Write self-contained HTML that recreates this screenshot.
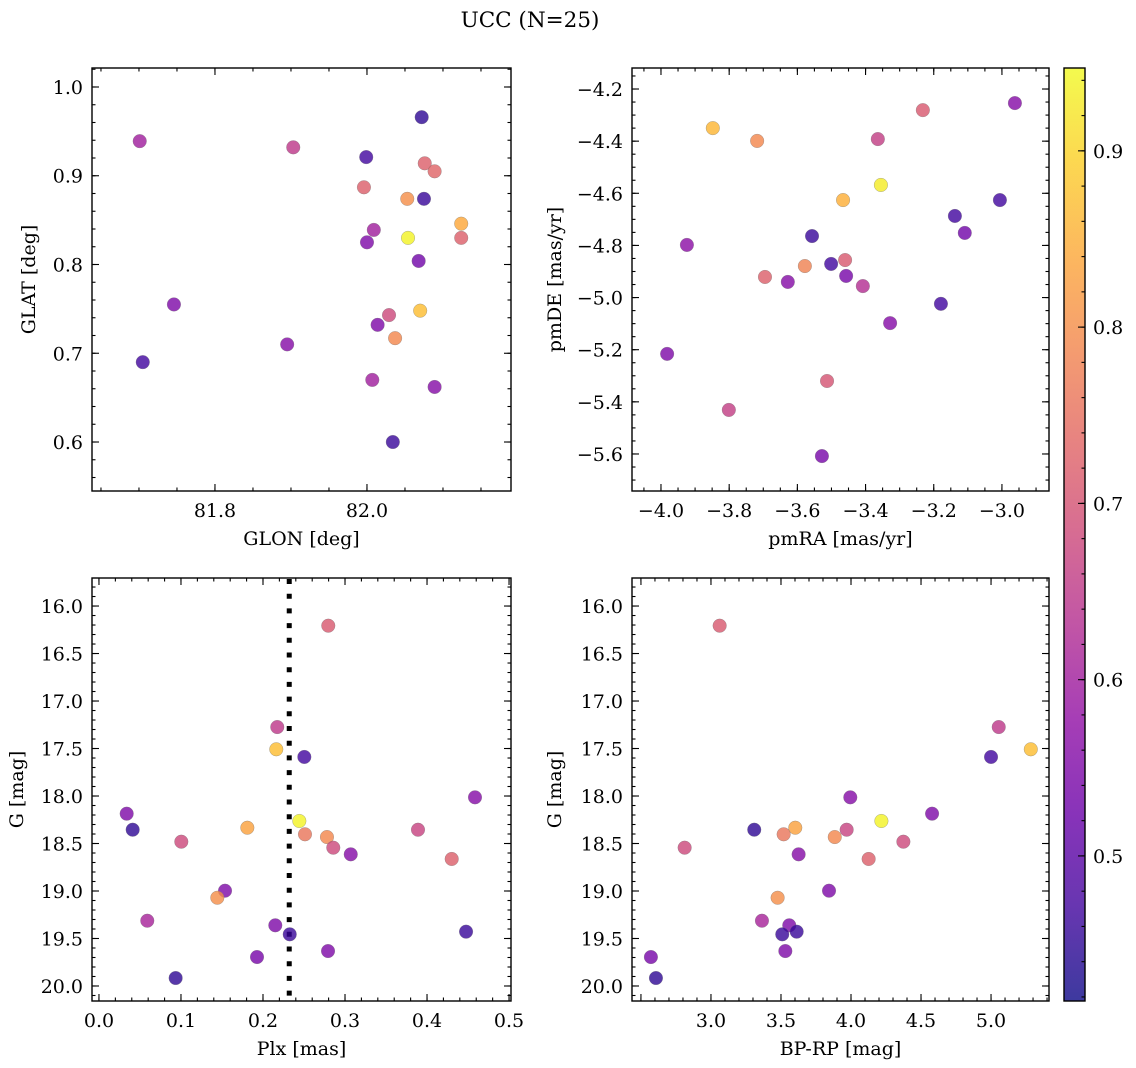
<!DOCTYPE html>
<html><head><meta charset="utf-8">
<style>
html,body{margin:0;padding:0;background:#fff;}
svg{display:block;font-family:"DejaVu Serif","Liberation Serif",serif;}
</style></head>
<body>
<svg id="fig" width="1136" height="1068" viewBox="0 0 1136 1068" xmlns="http://www.w3.org/2000/svg">
<rect width="1136" height="1068" fill="#fff"/>
<text x="530" y="27" font-size="21.5" text-anchor="middle">UCC (N=25)</text>
<defs>
<linearGradient id="plasma" x1="0" y1="1" x2="0" y2="0">
<stop offset="0" stop-color="#0d0887"/><stop offset="0.1" stop-color="#41049d"/>
<stop offset="0.2" stop-color="#6a00a8"/><stop offset="0.3" stop-color="#8f0da4"/>
<stop offset="0.4" stop-color="#b12a90"/><stop offset="0.5" stop-color="#cc4778"/>
<stop offset="0.6" stop-color="#e16462"/><stop offset="0.7" stop-color="#f2844b"/>
<stop offset="0.8" stop-color="#fca636"/><stop offset="0.9" stop-color="#fcce25"/>
<stop offset="1" stop-color="#f0f921"/>
</linearGradient>
</defs>
</svg>
<script>
// ---- data ----
const glon = [81.701,81.903,82.072,81.999,82.076,82.089,81.996,82.053,82.075,82.124,82.054,82.009,82.000,82.124,82.068,81.746,81.705,82.070,82.029,82.014,82.037,81.895,82.007,82.089,82.034];
const glat = [0.939,0.932,0.966,0.921,0.914,0.905,0.887,0.874,0.874,0.846,0.830,0.839,0.825,0.830,0.804,0.755,0.690,0.748,0.743,0.732,0.717,0.710,0.670,0.662,0.600];
const cGal = [0.60,0.65,0.45,0.47,0.72,0.73,0.72,0.80,0.46,0.84,0.94,0.60,0.55,0.72,0.53,0.55,0.47,0.87,0.68,0.55,0.79,0.56,0.60,0.56,0.46];
const pmra = [-3.848,-3.718,-3.232,-3.364,-2.962,-3.355,-3.466,-3.006,-3.138,-3.109,-3.557,-3.924,-3.578,-3.501,-3.460,-3.695,-3.628,-3.457,-3.408,-3.179,-3.328,-3.982,-3.513,-3.801,-3.528];
const pmde = [-4.350,-4.399,-4.281,-4.392,-4.254,-4.568,-4.626,-4.626,-4.687,-4.752,-4.764,-4.798,-4.879,-4.871,-4.856,-4.921,-4.940,-4.917,-4.956,-5.024,-5.098,-5.216,-5.320,-5.431,-5.608];
const cPm = [0.86,0.79,0.71,0.66,0.56,0.93,0.85,0.47,0.47,0.53,0.46,0.57,0.78,0.47,0.71,0.72,0.56,0.54,0.63,0.47,0.56,0.55,0.70,0.66,0.54];
const plx = [0.2796,0.2174,0.2162,0.2504,0.4585,0.0338,0.0411,0.1809,0.2443,0.2512,0.2780,0.3890,0.1004,0.2857,0.3070,0.4301,0.1537,0.1443,0.0589,0.2150,0.2326,0.4476,0.1927,0.2793,0.0935];
const gmag = [16.207,17.274,17.508,17.589,18.014,18.186,18.355,18.334,18.263,18.403,18.432,18.355,18.481,18.544,18.614,18.663,18.997,19.071,19.313,19.361,19.456,19.428,19.695,19.632,19.916];
const bprp = [3.062,5.055,5.284,5.000,3.995,4.579,3.309,3.602,4.217,3.519,3.884,3.969,4.374,2.812,3.626,4.126,3.843,3.476,3.364,3.559,3.509,3.612,2.571,3.531,2.607];
const cPhot = [0.71,0.65,0.87,0.47,0.56,0.55,0.45,0.83,0.94,0.76,0.79,0.67,0.68,0.68,0.56,0.72,0.55,0.80,0.61,0.55,0.46,0.46,0.54,0.55,0.45];
const plxLine = 0.232;
const cbTicks = [0.5,0.6,0.7,0.8,0.9];
const gTicks = [16.0,16.5,17.0,17.5,18.0,18.5,19.0,19.5,20.0];

const NS = "http://www.w3.org/2000/svg";
const svg = document.getElementById('fig');
const CMIN = 0.4177, CMAX = 0.947;
const FS = 19;
const stops = [[13,8,135],[65,4,157],[106,0,168],[143,13,164],[177,42,144],[204,71,120],[225,100,98],[242,132,75],[252,166,54],[252,206,37],[240,249,33]];
function plasma(v){
  let t=(v-CMIN)/(CMAX-CMIN); t=Math.max(0,Math.min(1,t));
  const f=t*10, i=Math.min(9,Math.floor(f)), u=f-i;
  const a=stops[i], b=stops[i+1];
  return 'rgb('+a.map((x,k)=>Math.round(x+(b[k]-x)*u)).join(',')+')';
}
function el(tag, attrs, parent){
  const e=document.createElementNS(NS,tag);
  for(const k in attrs) e.setAttribute(k,attrs[k]);
  (parent||svg).appendChild(e); return e;
}
function fmt(v,d){ const s=Math.abs(v).toFixed(d); return (v<0?'\u2212':'')+s; }

function panel(o){
  const g=el('g',{});
  
  
  const X=v=>o.x0+(v-o.xmin)/(o.xmax-o.xmin)*(o.x1-o.x0);
  const Y=v=>o.y1-(v-o.ymin)/(o.ymax-o.ymin)*(o.y1-o.y0);
  const tg=el('g',{stroke:'#000','stroke-width':1.1},g);
  function ticksX(step,len){
    const s=Math.ceil(o.xmin/step-1e-9);
    for(let k=s;k*step<=o.xmax+1e-9;k++){const px=X(k*step);
      el('line',{x1:px,x2:px,y1:o.y1,y2:o.y1-len},tg); el('line',{x1:px,x2:px,y1:o.y0,y2:o.y0+len},tg);}
  }
  function ticksY(step,len){
    const s=Math.ceil(o.ymin/step-1e-9);
    for(let k=s;k*step<=o.ymax+1e-9;k++){const py=Y(k*step);
      el('line',{y1:py,y2:py,x1:o.x0,x2:o.x0+len},tg); el('line',{y1:py,y2:py,x1:o.x1,x2:o.x1-len},tg);}
  }
  ticksX(o.xminor,3.5); ticksX(o.xmajor,7); ticksY(o.yminor,3.5); ticksY(o.ymajor,7);
  o.xlabels.forEach(v=>{
    const t=el('text',{x:X(v),y:o.y1+26,'font-size':FS,'text-anchor':'middle'},g);
     
    t.textContent=fmt(v,o.xdec);
  });
  o.ylabels.forEach(v=>{
    const t=el('text',{x:o.x0-9,y:Y(v)+7,'font-size':FS,'text-anchor':'end'},g);
     
    t.textContent=fmt(v,o.ydec);
  });
  const xt=el('text',{x:(o.x0+o.x1)/2,y:o.y1+54,'font-size':FS,'text-anchor':'middle'},g);
   
  xt.textContent=o.xtitle;
  const yc=(o.y0+o.y1)/2;
  const yt=el('text',{x:o.ytx,y:yc,'font-size':FS,'text-anchor':'middle',transform:'rotate(-90 '+o.ytx+' '+yc+')'},g);
   
  yt.textContent=o.ytitle;
  if(o.vline!==undefined){
    const l=el('line',{x1:X(o.vline),x2:X(o.vline),y1:o.y0+1,y2:o.y1,stroke:'#000','stroke-width':5,'stroke-dasharray':'5 9.7'},g);
     
  }
  o.xs.forEach((xv,i)=>{
    const c=el('circle',{cx:X(xv),cy:Y(o.ys[i]),r:6.8,fill:plasma(o.cs[i]),'fill-opacity':0.8,stroke:'#777','stroke-width':0.5,'stroke-opacity':0.6},g);
     
  });
  const fr=el('rect',{x:o.x0,y:o.y0,width:o.x1-o.x0,height:o.y1-o.y0,fill:'none',stroke:'#000','stroke-width':1.4},g);
   
}

panel({name:'glon-glat-panel',x0:92,x1:511,y0:68,y1:491,xmin:81.6382,xmax:82.1895,ymin:0.5448,ymax:1.0214,
  xmajor:0.2,xminor:0.05,ymajor:0.1,yminor:0.02,xlabels:[81.8,82.0],ylabels:[0.6,0.7,0.8,0.9,1.0],xdec:1,ydec:1,
  xtitle:'GLON [deg]',ytitle:'GLAT [deg]',ytx:35,xs:glon,ys:glat,cs:cGal});
panel({name:'pm-panel',x0:632,x1:1049,y0:68,y1:491,xmin:-4.085,xmax:-2.862,ymin:-5.742,ymax:-4.1194,
  xmajor:0.2,xminor:0.05,ymajor:0.2,yminor:0.05,xlabels:[-4.0,-3.8,-3.6,-3.4,-3.2,-3.0],ylabels:[-4.2,-4.4,-4.6,-4.8,-5.0,-5.2,-5.4,-5.6],xdec:1,ydec:1,
  xtitle:'pmRA [mas/yr]',ytitle:'pmDE [mas/yr]',ytx:561,xs:pmra,ys:pmde,cs:cPm});
panel({name:'plx-g-panel',x0:92,x1:511,y0:578,y1:1001,xmin:-0.0085,xmax:0.5024,ymin:-20.158,ymax:-15.705,
  xmajor:0.1,xminor:0.02,ymajor:0.5,yminor:0.1,xlabels:[0,0.1,0.2,0.3,0.4,0.5],ylabels:[],xdec:1,ydec:1,
  xtitle:'Plx [mas]',ytitle:'G [mag]',ytx:23,xs:plx,ys:gmag.map(v=>-v),cs:cPhot,vline:plxLine});
panel({name:'cmd-panel',x0:632,x1:1049,y0:578,y1:1001,xmin:2.436,xmax:5.414,ymin:-20.158,ymax:-15.705,
  xmajor:0.5,xminor:0.1,ymajor:0.5,yminor:0.1,xlabels:[3.0,3.5,4.0,4.5,5.0],ylabels:[],xdec:1,ydec:1,
  xtitle:'BP-RP [mag]',ytitle:'G [mag]',ytx:561,xs:bprp,ys:gmag.map(v=>-v),cs:cPhot});
[92,632].forEach(x0=>{
  gTicks.forEach(v=>{
    const t=el('text',{x:x0-9,y:1001-(-v+20.158)/(20.158-15.705)*423+7,'font-size':FS,'text-anchor':'end'});
     
    t.textContent=v.toFixed(1);
  });
});
const cb=el('g',{});


const CY=v=>1001-(v-CMIN)/(CMAX-CMIN)*933;
el('rect',{x:1064,y:68,width:21,height:933,fill:'url(#plasma)','fill-opacity':0.8},cb);
for(let k=Math.ceil(CMIN/0.02);k*0.02<=CMAX;k++){const py=CY(k*0.02);
  el('line',{x1:1085,x2:1081.5,y1:py,y2:py,stroke:'#000','stroke-width':1.1},cb);}
cbTicks.forEach(v=>{const py=CY(v);
  el('line',{x1:1085,x2:1078,y1:py,y2:py,stroke:'#000','stroke-width':1.1},cb);
  const t=el('text',{x:1093,y:py+7,'font-size':FS},cb);
   
  t.textContent=v.toFixed(1);
});
el('rect',{x:1064,y:68,width:21,height:933,fill:'none',stroke:'#000','stroke-width':1.4},cb);
</script>
</body></html>
